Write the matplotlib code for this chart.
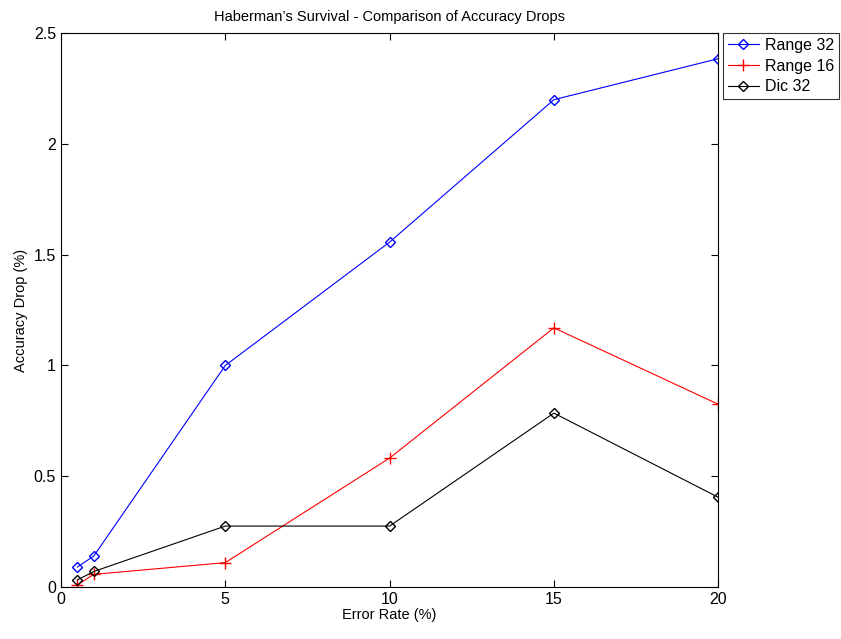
import matplotlib
matplotlib.use('Agg')
import matplotlib.pyplot as plt

x = [0.5, 1, 5, 10, 15, 20]
range32 = [0.09, 0.14, 1.0, 1.557, 2.2, 2.385]
range16 = [0.01, 0.057, 0.11, 0.582, 1.17, 0.825]
dic32 = [0.032, 0.07, 0.275, 0.275, 0.785, 0.405]

plt.rcParams['font.family'] = ['Liberation Sans', 'DejaVu Sans']
plt.rcParams['font.size'] = 10

fig = plt.figure(figsize=(8.41, 6.39), dpi=100)
ax = fig.add_axes([0.0725, 0.0814, 0.7815, 0.8666])

ax.plot(x, range32, color='#0000ff', marker='D', markersize=5, markerfacecolor='none',
        linewidth=0.8, label='Range 32')
ax.plot(x, range16, color='#ff0000', marker='+', markersize=8,
        linewidth=0.8, label='Range 16')
ax.plot(x, dic32, color='black', marker='D', markersize=5, markerfacecolor='none',
        linewidth=0.8, label='Dic 32')

ax.set_xlim(0, 20)
ax.set_ylim(0, 2.5)
ax.set_xticks([0, 5, 10, 15, 20])
ax.set_yticks([0, 0.5, 1, 1.5, 2, 2.5])
ax.set_yticklabels(['0', '0.5', '1', '1.5', '2', '2.5'])
ax.tick_params(direction='in', top=True, right=True, labelsize=11.5, length=5)
for s in ax.spines.values():
    s.set_linewidth(0.8)

ax.set_xlabel('Error Rate (%)', labelpad=1, fontsize=10.5)
ax.set_ylabel('Accuracy Drop (%)', fontsize=10.5)
ax.set_title('Haberman\u2019s Survival - Comparison of Accuracy Drops', pad=9, fontsize=10.5)

leg = ax.legend(loc='upper left', bbox_to_anchor=(1.008, 1.0), fontsize=11.5,
                frameon=True, fancybox=False, edgecolor='black', borderaxespad=0,
                handlelength=1.9, labelspacing=0.35, borderpad=0.3, handletextpad=0.4)
leg.get_frame().set_linewidth(0.8)

fig.savefig('out.png', dpi=100)
